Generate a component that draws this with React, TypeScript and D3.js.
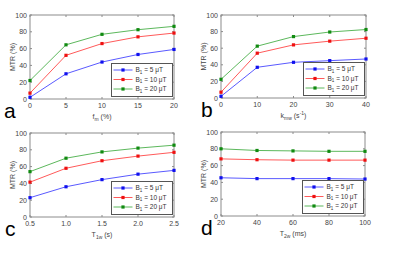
import React from "react";
import * as d3 from "d3";

const seriesNames = ["5", "10", "20"];
const lineColors = ["#5a5aff", "#ff5a5a", "#5cb85c"];
const markColors = ["#1010ee", "#ee1010", "#108a10"];
const yTicks = [0, 20, 40, 60, 80, 100];

const xA = [0, 5, 10, 15, 20];
const aBlue = [2, 30, 44, 53, 59];
const aRed = [7, 52, 66, 74, 78.5];
const aGreen = [22, 64.5, 77, 82.5, 86.5];

const xB = [0, 10, 20, 30, 40];
const bBlue = [2, 37, 43, 45, 47];
const bRed = [7, 54, 64, 68.5, 72];
const bGreen = [22.5, 62.5, 74, 79.5, 82.5];

const xC = [0.5, 1, 1.5, 2, 2.5];
const cBlue = [23, 36, 44.5, 51, 55.5];
const cRed = [41.5, 58, 67, 72.5, 77];
const cGreen = [54, 70, 77.5, 82, 85.5];

const xD = [20, 40, 60, 80, 100];
const dBlue = [45.5, 44.5, 44.5, 44.5, 44];
const dRed = [68, 67, 66.5, 66.5, 66.5];
const dGreen = [80, 78, 77.5, 77, 77];

const FONT = "'Liberation Sans', Arial, Helvetica, sans-serif";

type PanelProps = {
  left: number; right: number; top: number; bottom: number;
  xs: number[]; series: number[][]; fmt: (v: number) => string;
  letter: string; letterX: number;
  title: React.ReactNode;
};

function Panel(p: PanelProps) {
  const x = d3.scaleLinear().domain([xsMin(p.xs), xsMax(p.xs)]).range([p.left, p.right]);
  const y = d3.scaleLinear().domain([0, 100]).range([p.bottom, p.top]);
  const line = d3.line<number>().x((_, i) => x(p.xs[i])).y((v) => y(v));
  const frame = "#8c8c8c";
  const lgW = 61, lgH = 33;
  const lgX = p.right - lgW - 1.5, lgY = p.bottom - lgH - 2.5;
  return (
    <g>
      <rect x={p.left} y={p.top} width={p.right - p.left} height={p.bottom - p.top} fill="#fff" stroke={frame} strokeWidth={1} />
      {yTicks.map((t) => (
        <g key={"y" + t}>
          <line x1={p.left} x2={p.left + 2} y1={y(t)} y2={y(t)} stroke={frame} />
          <line x1={p.right} x2={p.right - 2} y1={y(t)} y2={y(t)} stroke={frame} />
          <text x={p.left - 3} y={y(t) + 2.5} fontSize={7} fill="#444" textAnchor="end" fontFamily={FONT}>{t}</text>
        </g>
      ))}
      {p.xs.map((t) => (
        <g key={"x" + t}>
          <line x1={x(t)} x2={x(t)} y1={p.bottom} y2={p.bottom - 2} stroke={frame} />
          <line x1={x(t)} x2={x(t)} y1={p.top} y2={p.top + 2} stroke={frame} />
          <text x={x(t)} y={p.bottom + 8.5} fontSize={7} fill="#444" textAnchor="middle" fontFamily={FONT}>{p.fmt(t)}</text>
        </g>
      ))}
      <text transform={`translate(${p.left - 15},${(p.top + p.bottom) / 2}) rotate(-90)`} fontSize={7} fill="#444" textAnchor="middle" fontFamily={FONT}>MTR (%)</text>
      <text x={(p.left + p.right) / 2} y={p.bottom + 20} fontSize={7} fill="#444" textAnchor="middle" fontFamily={FONT}>{p.title}</text>
      {p.series.map((s, k) => (
        <g key={"s" + k}>
          <path d={line(s) || ""} fill="none" stroke={lineColors[k]} strokeWidth={1} />
          {s.map((v, i) => (
            <rect key={i} x={x(p.xs[i]) - 1.6} y={y(v) - 1.6} width={3.2} height={3.2} fill={markColors[k]} />
          ))}
        </g>
      ))}
      <rect x={lgX} y={lgY} width={lgW} height={lgH} fill="#fff" stroke="#555" strokeWidth={1} />
      {seriesNames.map((n, k) => {
        const ly = lgY + 6.5 + k * 9.5;
        return (
          <g key={"l" + k}>
            <line x1={lgX + 2} x2={lgX + 21} y1={ly} y2={ly} stroke={lineColors[k]} strokeWidth={1} />
            <rect x={lgX + 11.5 - 1.6} y={ly - 1.6} width={3.2} height={3.2} fill={markColors[k]} />
            <text x={lgX + 24} y={ly + 2.3} fontSize={6.5} fill="#333" fontFamily={FONT}>
              B<tspan fontSize={4.5} dy={1.5}>1</tspan><tspan dy={-1.5}>{` = ${n} \u03bcT`}</tspan>
            </text>
          </g>
        );
      })}
      <text x={p.letterX} y={p.bottom + 19} fontSize={21} fill="#000" fontFamily={FONT}>{p.letter}</text>
    </g>
  );
}

function xsMin(a: number[]) { return d3.min(a) as number; }
function xsMax(a: number[]) { return d3.max(a) as number; }

const sub = (main: string, s: string, rest: string) => (
  <>
    {main}<tspan fontSize={5} dy={2}>{s}</tspan><tspan dy={-2}>{rest}</tspan>
  </>
);

export default function App() {
  const intFmt = (v: number) => String(v);
  const decFmt = d3.format(".1f");
  return (
    <svg width={400} height={255} style={{ position: "absolute", left: 0, top: 0, background: "#fff" }}>
      <rect x={0} y={0} width={400} height={255} fill="#fff" />
      <Panel left={30} right={174} top={15} bottom={99} xs={xA} series={[aBlue, aRed, aGreen]} fmt={intFmt}
        letter="a" letterX={4} title={sub("f", "m", " (%)")} />
      <Panel left={221} right={366} top={15} bottom={98} xs={xB} series={[bBlue, bRed, bGreen]} fmt={intFmt}
        letter="b" letterX={201} title={<>k<tspan fontSize={5} dy={2}>mw</tspan><tspan dy={-2}> (s</tspan><tspan fontSize={5} dy={-3}>-1</tspan><tspan dy={3}>)</tspan></>} />
      <Panel left={30} right={174} top={133} bottom={217} xs={xC} series={[cBlue, cRed, cGreen]} fmt={decFmt}
        letter="c" letterX={5} title={sub("T", "1w", " (s)")} />
      <Panel left={221} right={365} top={132} bottom={216} xs={xD} series={[dBlue, dRed, dGreen]} fmt={intFmt}
        letter="d" letterX={201} title={sub("T", "2w", " (ms)")} />
    </svg>
  );
}
